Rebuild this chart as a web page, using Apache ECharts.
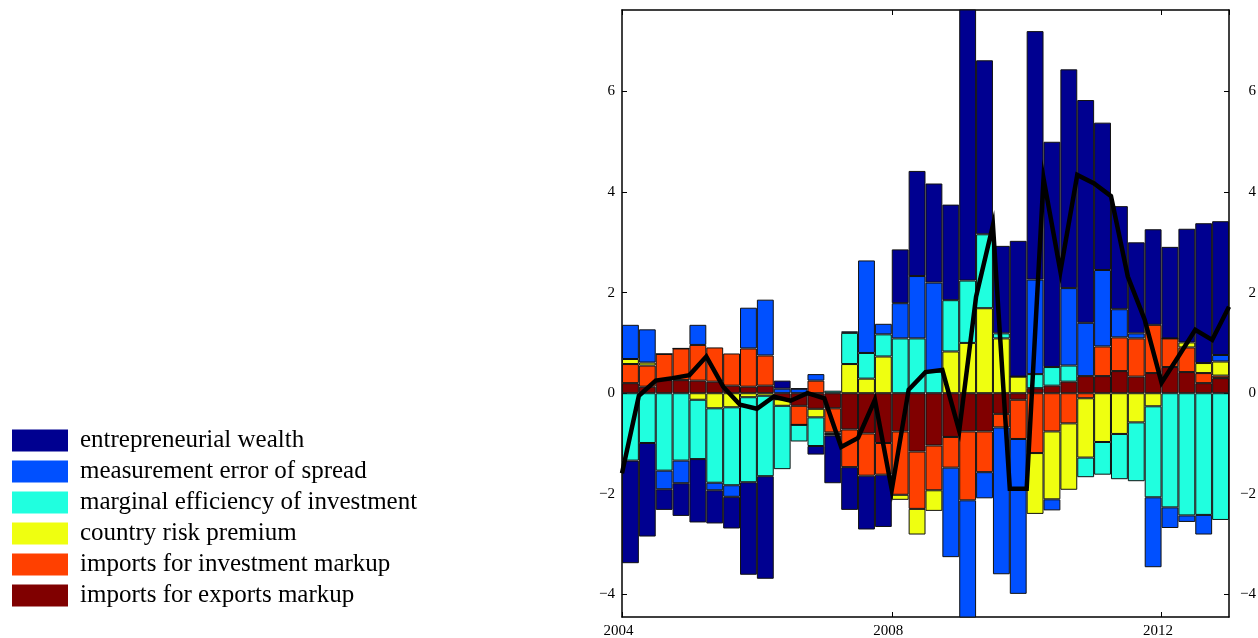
<!DOCTYPE html>
<html>
<head>
<meta charset="utf-8">
<script src="https://cdn.jsdelivr.net/npm/echarts@6/dist/echarts.min.js"></script>
<style>
  html, body { margin: 0; padding: 0; background: #fff; }
  #chart { width: 1258px; height: 638px; }
</style>
</head>
<body>
<div id="chart"></div>
<script>
// Quarters 2004Q1 .. 2012Q4
const quarters = [];
for (let y = 2004; y <= 2012; y++) for (let q = 1; q <= 4; q++) quarters.push(y + 'Q' + q);

// Shock contributions per quarter (percentage points)
const importsExportsMarkup = [
  0.20, 0.13, 0.26, 0.26, 0.25, 0.23, 0.15, 0.13, 0.15, -0.12, -0.25, -0.31,
  -0.30, -0.72, -0.80, -0.99, -0.76, -1.16, -1.04, -0.87, -0.76, -0.76, -0.41, -0.13,
  0.10, 0.15, 0.23, 0.34, 0.34, 0.44, 0.33, 0.40, 0.52, 0.42, 0.20, 0.30
];
const importsInvestmentMarkup = [
  0.38, 0.42, 0.52, 0.63, 0.71, 0.68, 0.64, 0.76, 0.60, 0.00, -0.38, 0.25,
  -0.48, -0.75, -0.84, -0.63, -1.26, -1.14, -0.89, -0.61, -1.37, -0.81, -0.27, -0.78,
  -1.19, -0.76, -0.60, -0.10, 0.59, 0.67, 0.76, 0.96, 0.57, 0.49, 0.20, 0.05
];
const countryRiskPremium = [
  0.10, 0.06, 0.00, 0.00, -0.13, -0.30, -0.28, -0.08, -0.05, -0.13, 0.00, -0.17,
  -0.03, 0.58, 0.29, 0.73, -0.10, -0.51, -0.41, 0.83, 1.00, 1.69, 1.09, 0.33,
  -1.21, -1.35, -1.32, -1.18, -0.97, -0.81, -0.58, -0.26, 0.00, 0.10, 0.20, 0.28
];
const marginalEfficiency = [
  -1.34, -0.99, -1.54, -1.34, -1.18, -1.48, -1.55, -1.69, -1.60, -1.26, -0.33, -0.57,
  0.05, 0.62, 0.51, 0.44, 1.09, 1.09, 0.43, 1.02, 1.24, 1.47, 0.10, 0.00,
  0.28, 0.37, 0.32, -0.39, -0.65, -0.90, -1.17, -1.81, -2.27, -2.43, -2.42, -2.52
];
const measurementError = [
  0.68, 0.66, -0.37, -0.45, 0.40, -0.15, -0.23, 0.81, 1.11, 0.09, 0.09, 0.13,
  -0.03, 0.03, 1.84, 0.21, 0.70, 1.24, 1.77, -1.78, -2.57, -0.52, -2.92, -3.08,
  1.88, -0.22, 1.54, 1.06, 1.52, 0.56, 0.10, -1.39, -0.41, -0.13, -0.39, 0.13
];
const entrepreneurialWealth = [
  -2.04, -1.86, -0.41, -0.65, -1.26, -0.66, -0.63, -1.84, -2.04, 0.16, 0.00, -0.17,
  -0.95, -0.85, -1.07, -1.04, 1.07, 2.09, 1.97, 1.90, 5.66, 3.46, 1.74, 2.70,
  4.94, 4.48, 4.35, 4.43, 2.93, 2.05, 1.81, 1.90, 1.82, 2.26, 2.78, 2.66
];

// Observed series, sampled at quarter boundaries 2004.00 .. 2013.00
const observed = [
  -1.59, -0.05, 0.25, 0.30, 0.36, 0.73, 0.13, -0.23, -0.31, -0.07, -0.15, 0.00,
  -0.10, -1.07, -0.89, -0.13, -1.92, 0.07, 0.42, 0.46, -0.75, 1.92, 3.34, -1.90,
  -1.90, 4.27, 2.42, 4.34, 4.17, 3.92, 2.32, 1.46, 0.21, 0.73, 1.26, 1.06, 1.72
];

const yTicks = [-4, -2, 0, 2, 4, 6];

const shocks = [
  { name: 'imports for exports markup', color: '#800000', data: importsExportsMarkup },
  { name: 'imports for investment markup', color: '#ff4000', data: importsInvestmentMarkup },
  { name: 'country risk premium', color: '#efff10', data: countryRiskPremium },
  { name: 'marginal efficiency of investment', color: '#20ffdf', data: marginalEfficiency },
  { name: 'measurement error of spread', color: '#0050ff', data: measurementError },
  { name: 'entrepreneurial wealth', color: '#000090', data: entrepreneurialWealth }
];

const gridLeft = 622, gridTop = 10, gridW = 607, gridH = 607;
const xMin = 2004, xMax = 2013;
const barW = gridW / quarters.length;
const serif = '"Liberation Serif", "DejaVu Serif", serif';

const fmtMinus = v => (v < 0 ? '\u2212' + Math.abs(v) : String(v));

// Stacked bars on a category axis (one band per quarter)
const series = shocks.map(s => ({
  name: s.name,
  type: 'bar',
  stack: 'hd',
  xAxisIndex: 0,
  yAxisIndex: 0,
  barWidth: barW,
  itemStyle: { color: s.color, borderColor: '#111', borderWidth: 1 },
  emphasis: { disabled: true },
  data: s.data
}));

// Observed line on the continuous time axis
series.push({
  name: 'observed',
  type: 'line',
  xAxisIndex: 1,
  yAxisIndex: 0,
  symbol: 'none',
  z: 10,
  lineStyle: { color: '#000', width: 4.5, join: 'miter' },
  itemStyle: { color: '#000' },
  emphasis: { disabled: true },
  data: observed.map((v, i) => [xMin + i * 0.25, v])
});

const yAxisBase = {
  type: 'value',
  min: -4.45,
  max: 7.62,
  minInterval: 2,
  maxInterval: 2,
  splitNumber: 6,
  splitLine: { show: false },
  axisLine: { show: true, onZero: false, lineStyle: { color: '#000', width: 1.5 } },
  axisTick: { show: true, inside: true, length: 5, lineStyle: { color: '#000', width: 1 } },
  axisLabel: {
    showMinLabel: false, showMaxLabel: false,
    color: '#000', fontFamily: serif, fontSize: 15,
    formatter: v => (yTicks.indexOf(v) >= 0 ? fmtMinus(v) : '')
  }
};

const timeAxisBase = {
  type: 'value', min: xMin, max: xMax, interval: 4,
  splitLine: { show: false },
  axisLine: { show: true, onZero: false, lineStyle: { color: '#000', width: 1.5 } },
  axisTick: { show: true, inside: true, length: 5, lineStyle: { color: '#000' } }
};

const option = {
  animation: false,
  backgroundColor: '#fff',
  grid: {
    left: gridLeft, top: gridTop, width: gridW, height: gridH,
    containLabel: false, outerBoundsMode: 'none'
  },
  legend: {
    orient: 'vertical',
    left: 12,
    top: 428,
    padding: 0,
    itemWidth: 56,
    itemHeight: 22,
    itemGap: 6,
    icon: 'rect',
    selectedMode: false,
    data: shocks.slice().reverse().map(s => s.name),
    itemStyle: { borderWidth: 0 },
    textStyle: { color: '#000', fontFamily: serif, fontSize: 25, padding: [0, 0, 0, 7] }
  },
  xAxis: [
    {
      type: 'category', data: quarters, boundaryGap: true, position: 'bottom',
      axisLine: { show: false }, axisTick: { show: false }, axisLabel: { show: false },
      splitLine: { show: false }
    },
    Object.assign({}, timeAxisBase, {
      position: 'bottom',
      axisLabel: {
        showMaxLabel: false, color: '#000', fontFamily: serif, fontSize: 15, margin: 7,
        padding: [0, 7, 0, 0],
        formatter: v => String(v)
      }
    }),
    Object.assign({}, timeAxisBase, {
      position: 'top',
      axisLabel: { show: false }
    })
  ],
  yAxis: [
    Object.assign({}, yAxisBase, {
      position: 'left',
      axisLabel: Object.assign({}, yAxisBase.axisLabel, { margin: 7 })
    }),
    Object.assign({}, yAxisBase, {
      position: 'right',
      axisLabel: Object.assign({}, yAxisBase.axisLabel, { margin: 27, align: 'right' })
    })
  ],
  series: series
};

const chart = echarts.init(document.getElementById('chart'), null, { renderer: 'canvas' });
chart.setOption(option);
</script>
</body>
</html>
